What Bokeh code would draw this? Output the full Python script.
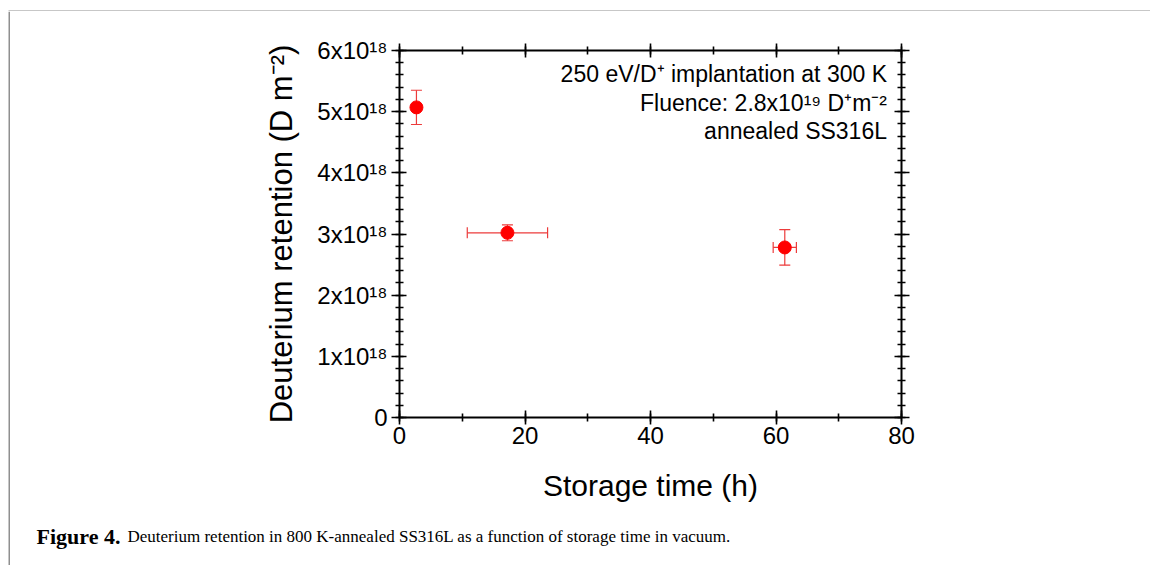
from bokeh.plotting import figure
from bokeh.layouts import column, row
from bokeh.models import (LinearAxis, SingleIntervalTicker, Whisker, ColumnDataSource,
                          Label, Range1d, TeeHead)
from bokeh.embed import file_html
from bokeh.resources import INLINE

# ---- data ----
storage_time = [2.7, 17.2, 61.4]          # h
storage_time_err = [0.0, 6.4, 1.85]       # h
retention = [5.07e18, 3.02e18, 2.78e18]   # D m^-2
retention_err = [0.28e18, 0.13e18, 0.29e18]

x_tick_values = [0, 20, 40, 60, 80]
y_tick_values = [0, 1e18, 2e18, 3e18, 4e18, 5e18, 6e18]
y_tick_labels = ["0", "1x10\u00b9\u2078", "2x10\u00b9\u2078", "3x10\u00b9\u2078",
                 "4x10\u00b9\u2078", "5x10\u00b9\u2078", "6x10\u00b9\u2078"]

x_label = "Storage time (h)"
y_label = "Deuterium retention (D m\u207b\u00b2)"
annotation_lines = ["250 eV/D\u207a implantation at 300 K",
                    "Fluence: 2.8x10\u00b9\u2079 D\u207am\u207b\u00b2",
                    "annealed SS316L"]
caption_bold = "Figure 4."
caption_text = "Deuterium retention in 800 K-annealed SS316L as a function of storage time in vacuum."

X0, X1 = 0, 80
Y0, Y1 = 0, 6e18

FONT = "Liberation Sans"
RED = "#ff0000"
ERR = "#ec3b3b"
FRAME_GRAY = "#8f8f8f"

W_TOTAL = 1150
TOP_H = 11
LEFT_W = 10
MAIN_H = 502
CAP_H = 52


def blank_fig(w, h):
    f = figure(width=w, height=h, x_range=Range1d(0, w), y_range=Range1d(0, h),
               x_axis_type=None, y_axis_type=None, min_border=0,
               toolbar_location=None, output_backend="svg")
    f.grid.visible = False
    f.outline_line_color = None
    f.background_fill_color = "white"
    f.border_fill_color = "white"
    return f

# ---- gray page frame (top and left rules) ----
top_strip = blank_fig(W_TOTAL, TOP_H)
top_strip.quad(left=[8], right=[W_TOTAL], bottom=[0], top=[2], fill_color=FRAME_GRAY,
               line_color=None)
left_strip = blank_fig(LEFT_W, MAIN_H + CAP_H)
left_strip.quad(left=[8], right=[10], bottom=[0], top=[MAIN_H + CAP_H],
                fill_color=FRAME_GRAY, line_color=None)

# ---- main chart ----
p = figure(frame_width=502, frame_height=367,
           min_border_left=389, min_border_right=246, min_border_top=39, min_border_bottom=96,
           x_range=Range1d(X0, X1), y_range=Range1d(Y0, Y1),
           toolbar_location=None, output_backend="svg")
p.grid.visible = False
p.outline_line_color = None
p.background_fill_color = "white"
p.border_fill_color = "white"

# frame geometry (screen px) used only to place free texts
FL, FR, FT, FB = 399.3, 901.0, 50.0, 416.7
def sx(px):
    return X0 + (px - FL) / (FR - FL) * (X1 - X0)
def sy(py):
    return Y0 + (FB - py) / (FB - FT) * (Y1 - Y0)

def style_axis(ax, is_x, labels=True):
    ax.axis_line_width = 2
    ax.axis_line_color = "black"
    ax.major_tick_line_width = 1.6
    ax.minor_tick_line_width = 1.6
    ax.major_tick_line_color = "black"
    ax.minor_tick_line_color = "black"
    ax.major_tick_in = 7
    ax.major_tick_out = 7 if is_x else 8
    ax.minor_tick_in = 4
    ax.minor_tick_out = 4
    if is_x:
        ax.ticker = SingleIntervalTicker(interval=20, num_minor_ticks=2)
    else:
        ax.ticker = SingleIntervalTicker(interval=1e18, num_minor_ticks=5)
    ax.major_label_text_font = FONT
    ax.major_label_text_font_size = "24px"
    ax.major_label_text_color = "black"
    if is_x:
        ax.major_label_standoff = 2
        if labels:
            ax.major_label_overrides = {v: str(v) for v in x_tick_values}
        else:
            ax.major_label_overrides = {v: "" for v in x_tick_values}
    else:
        ax.major_label_standoff = 4
        if labels:
            ax.major_label_overrides = {v: t for v, t in zip(y_tick_values, y_tick_labels)}
        else:
            ax.major_label_overrides = {v: "" for v in y_tick_values}
    ax.axis_label_text_font = FONT
    ax.axis_label_text_font_style = "normal"
    ax.axis_label_text_color = "black"

style_axis(p.xaxis[0], True)
style_axis(p.yaxis[0], False)
p.xaxis[0].axis_label = x_label
p.xaxis[0].axis_label_text_font_size = "30px"
p.xaxis[0].axis_label_standoff = 22
p.yaxis[0].axis_label = y_label
p.yaxis[0].axis_label_text_font_size = "31px"
p.yaxis[0].axis_label_standoff = 15

top_ax = LinearAxis()
style_axis(top_ax, True, labels=False)
p.add_layout(top_ax, "above")
right_ax = LinearAxis()
style_axis(right_ax, False, labels=False)
p.add_layout(right_ax, "right")

# ---- error bars ----
src = ColumnDataSource(dict(
    t=storage_time, r=retention,
    r_lo=[r - e for r, e in zip(retention, retention_err)],
    r_hi=[r + e for r, e in zip(retention, retention_err)],
))
p.add_layout(Whisker(source=src, base="t", lower="r_lo", upper="r_hi", dimension="height",
                     line_color=ERR, line_width=1.2,
                     upper_head=TeeHead(size=11, line_color=ERR, line_width=1.2),
                     lower_head=TeeHead(size=11, line_color=ERR, line_width=1.2)))

xi = [i for i, e in enumerate(storage_time_err) if e > 0]
src_x = ColumnDataSource(dict(
    r=[retention[i] for i in xi],
    t_lo=[storage_time[i] - storage_time_err[i] for i in xi],
    t_hi=[storage_time[i] + storage_time_err[i] for i in xi],
))
p.add_layout(Whisker(source=src_x, base="r", lower="t_lo", upper="t_hi", dimension="width",
                     line_color=ERR, line_width=1.2,
                     upper_head=TeeHead(size=11, line_color=ERR, line_width=1.2),
                     lower_head=TeeHead(size=11, line_color=ERR, line_width=1.2)))

# ---- points ----
p.scatter(x="t", y="r", source=src, size=13, marker="circle",
          fill_color=RED, line_color=RED)

# ---- annotation text ----
for line, py in zip(annotation_lines, [73.5, 102.5, 130.0]):
    p.add_layout(Label(x=sx(886.5), y=sy(py), text=line, text_align="right",
                       text_baseline="alphabetic", text_font=FONT,
                       text_font_size="23px", text_color="black"))

# ---- caption (separate strip below the chart) ----
cap = blank_fig(W_TOTAL - LEFT_W, CAP_H)
cap.add_layout(Label(x=26, y=29, text=caption_bold, text_align="left",
                     text_baseline="alphabetic", text_font="Liberation Serif",
                     text_font_style="bold", text_font_size="22px", text_color="black"))
cap.add_layout(Label(x=117, y=29, text=caption_text, text_align="left",
                     text_baseline="alphabetic", text_font="Liberation Serif",
                     text_font_size="17px", text_color="black"))

inner = column(row(p, spacing=0), row(cap, spacing=0), spacing=0)
layout = column(top_strip, row(left_strip, inner, spacing=0), spacing=0)

open("out.html", "w").write(file_html(layout, INLINE))
